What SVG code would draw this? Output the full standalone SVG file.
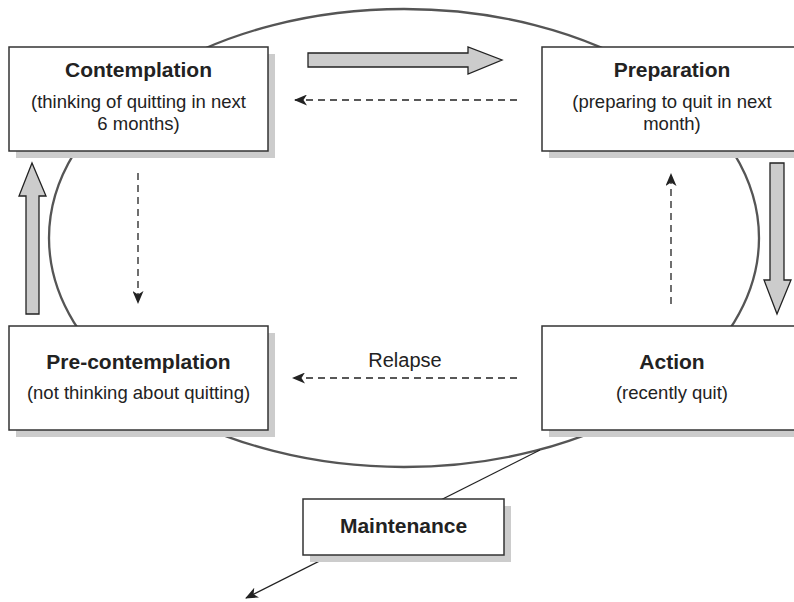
<svg xmlns="http://www.w3.org/2000/svg" width="794" height="602" viewBox="0 0 794 602">
<defs>
<marker id="ah" markerUnits="userSpaceOnUse" markerWidth="13" markerHeight="11" viewBox="0 0 13 11" refX="12" refY="5.5" orient="auto">
<path d="M0,0 L13,5.5 L0,11 L3.5,5.5 Z" fill="#222"/>
</marker>
</defs>
<style>
.box{fill:#fff;stroke:#333;stroke-width:1.5}
.shadow{fill:#cccccc}
.title{font-family:"Liberation Sans",Arial,sans-serif;font-weight:bold;font-size:21px;fill:#222;text-anchor:middle}
.sub{font-family:"Liberation Sans",Arial,sans-serif;font-size:18.5px;fill:#222;text-anchor:middle}
.dash{fill:none;stroke:#222;stroke-width:1.3;stroke-dasharray:7,5;marker-end:url(#ah)}
.block{fill:#cccccc;stroke:#222;stroke-width:1.3;stroke-linejoin:miter}
.ring{fill:none;stroke:#555;stroke-width:2.3}
</style>
<rect width="794" height="602" fill="#fff"/>
<g id="cycle">
<ellipse class="ring" cx="404" cy="238" rx="355" ry="229"/>
</g>
<g id="connectors">
<line x1="540" y1="450" x2="246" y2="598" stroke="#222" stroke-width="1.2" marker-end="url(#ah)"/>
<path class="block" d="M308,53 L468,53 L468,47 L502,60 L468,74 L468,67 L308,67 Z"/>
<path class="block" d="M26,314 L26,196 L19,196 L32,163 L46,196 L39,196 L39,314 Z"/>
<path class="block" d="M770,163 L784,163 L784,280 L791,280 L777,314 L764,280 L770,280 Z"/>
<line class="dash" x1="517" y1="100" x2="295" y2="100"/>
<line class="dash" x1="138" y1="173" x2="138" y2="303"/>
<line class="dash" x1="671" y1="304" x2="671" y2="174"/>
<line class="dash" x1="517" y1="378" x2="293" y2="378"/>
<text x="405" y="367" class="sub" style="font-size:20px">Relapse</text>
</g>
<g id="contemplation">
<rect class="shadow" x="16" y="54" width="259" height="104"/>
<rect class="box" x="9" y="47" width="259" height="104"/>
<text x="138.5" y="77" class="title">Contemplation</text>
<text x="138.5" y="108" class="sub">(thinking of quitting in next</text>
<text x="138.5" y="130" class="sub">6 months)</text>
</g>
<g id="preparation">
<rect class="shadow" x="549" y="54" width="259" height="104"/>
<rect class="box" x="542" y="47" width="259" height="104"/>
<text x="672" y="77" class="title">Preparation</text>
<text x="672" y="108" class="sub">(preparing to quit in next</text>
<text x="672" y="130" class="sub">month)</text>
</g>
<g id="precontemplation">
<rect class="shadow" x="16" y="333" width="259" height="104"/>
<rect class="box" x="9" y="326" width="259" height="104"/>
<text x="138.5" y="369" class="title">Pre-contemplation</text>
<text x="138.5" y="399" class="sub">(not thinking about quitting)</text>
</g>
<g id="action">
<rect class="shadow" x="549" y="333" width="259" height="104"/>
<rect class="box" x="542" y="326" width="259" height="104"/>
<text x="672" y="369" class="title">Action</text>
<text x="672" y="399" class="sub">(recently quit)</text>
</g>
<g id="maintenance">
<rect class="shadow" x="310" y="506" width="201" height="56"/>
<rect class="box" x="303" y="499" width="201" height="56"/>
<text x="403.5" y="533" class="title">Maintenance</text>
</g>
</svg>
